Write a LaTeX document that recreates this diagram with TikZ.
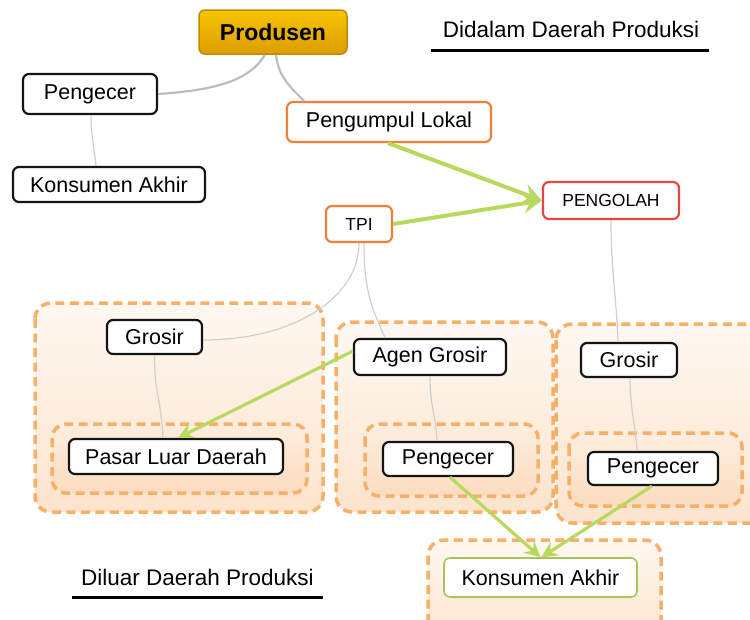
\documentclass[tikz,border=0pt]{standalone}
\usepackage{fontspec}
\setmainfont{Liberation Sans}
\usetikzlibrary{arrows.meta}
\definecolor{goldTop}{HTML}{F8C400}
\definecolor{goldBot}{HTML}{DB9E00}
\definecolor{goldEdge}{HTML}{C08A00}
\definecolor{orEdge}{HTML}{F08038}
\definecolor{redEdge}{HTML}{E84540}
\definecolor{grEdge}{HTML}{A8C45A}
\definecolor{arrowGreen}{HTML}{B9D85E}
\definecolor{dashOr}{HTML}{F6B068}
\definecolor{grpTop}{HTML}{FEF8F1}
\definecolor{grpBot}{HTML}{FCE4CD}
\definecolor{inTop}{HTML}{FDEEDF}
\definecolor{inBot}{HTML}{FBDCC0}
\definecolor{linkGray}{HTML}{BDBDBD}
\definecolor{thinGray}{HTML}{CFCFCF}
\begin{document}
\begin{tikzpicture}[x=1pt,y=-1pt,
  nbox/.style={draw=black!92, line width=2.2pt, rounded corners=6pt, fill=white,
    inner sep=0pt, font=\fontsize{21.5}{25}\selectfont},
  obox/.style={nbox, draw=orEdge},
  rbox/.style={nbox, draw=redEdge},
  gbox/.style={nbox, draw=grEdge, line width=1.6pt},
  grp/.style={draw=dashOr, line width=3.5pt, dash pattern=on 9pt off 5.5pt,
    rounded corners=16pt, top color=grpTop, bottom color=grpBot},
  grpin/.style={grp, top color=inTop, bottom color=inBot, rounded corners=14pt},
  glink/.style={draw=linkGray, line width=2.2pt},
  tlink/.style={draw=thinGray, line width=1.2pt},
  flow/.style={draw=arrowGreen, line width=4pt,
    -{Stealth[length=19pt,width=20pt,inset=7pt]}},
  flowsm/.style={draw=arrowGreen, line width=3.2pt,
    -{Stealth[length=16pt,width=16pt,inset=6pt]}},
  ttl/.style={font=\fontsize{22.5}{26}\selectfont, anchor=base, inner sep=0pt},
  uline/.style={draw=black, line width=3pt}
]
\useasboundingbox (0,0) rectangle (750,619);
\clip (0,0) rectangle (750,619);

% groups
\path[grp] (35,303) rectangle (323,512);
\path[grpin] (52,424) rectangle (307,493);
\path[grp] (336,322) rectangle (553,512);
\path[grpin] (365,424) rectangle (538,496);
\path[grp] (556,324) rectangle (775,523);
\path[grpin] (569,433) rectangle (742,506);
\path[grp] (428,540) rectangle (661,640);

% nodes
\node[nbox, draw=goldEdge, line width=1.5pt, top color=goldTop, bottom color=goldBot,
  minimum width=148pt, minimum height=44pt, font=\bfseries\fontsize{23}{27}\selectfont]
  (prod) at (273,32) {Produsen};
\node[nbox, minimum width=134pt, minimum height=40pt] (pengA) at (90,94) {Pengecer};
\node[nbox, minimum width=192pt, minimum height=35pt] (konsA) at (109,184.5) {Konsumen Akhir};
\node[obox, minimum width=204pt, minimum height=40pt] (pumpul) at (389,122) {Pengumpul Lokal};
\node[rbox, minimum width=136pt, minimum height=37pt, font=\fontsize{17.5}{21}\selectfont]
  (olah) at (611,200.5) {PENGOLAH};
\node[obox, minimum width=66pt, minimum height=36pt, font=\fontsize{17.5}{21}\selectfont]
  (tpi) at (359,224) {TPI};
\node[nbox, minimum width=95pt, minimum height=34pt] (grosL) at (154.5,337) {Grosir};
\node[nbox, minimum width=214pt, minimum height=35pt] (pasar) at (176,456.5) {Pasar Luar Daerah};
\node[nbox, minimum width=152pt, minimum height=36pt] (agen) at (430,357) {Agen Grosir};
\node[nbox, minimum width=130pt, minimum height=34pt] (pengM) at (448,459) {Pengecer};
\node[nbox, minimum width=96pt, minimum height=34pt] (grosR) at (629,360) {Grosir};
\node[nbox, minimum width=130pt, minimum height=33pt] (pengR) at (653,468.5) {Pengecer};
\node[gbox, minimum width=193pt, minimum height=39pt] (konsB) at (540.5,577.5) {Konsumen Akhir};

% titles
\node[ttl] (tIn) at (571,37) {Didalam Daerah Produksi};
\coordinate (uInA) at (431,50);
\coordinate (uInB) at (709,50);
\draw[uline] (uInA) -- (uInB);
\node[ttl] (tOut) at (197.5,585) {Diluar Daerah Produksi};
\coordinate (uOutA) at (72,597);
\coordinate (uOutB) at (323,597);
\draw[uline] (uOutA) -- (uOutB);

% gray links
\draw[glink] ([xshift=-8pt]prod.south) .. controls +(-15,25) and +(60,-4) .. (pengA.east);
\draw[glink] ([xshift=3pt]prod.south) .. controls +(2,22) and +(-12,-12) .. ([xshift=-85pt]pumpul.north);
\draw[tlink] ([xshift=1pt]pengA.south) .. controls +(0,20) and +(-2,-20) .. ([xshift=-13pt]konsA.north);
\draw[tlink] (tpi.south) .. controls +(0,55) and +(90,0) .. ([yshift=-3pt]grosL.east);
\draw[tlink] ([xshift=5pt]tpi.south) .. controls +(0,55) and +(-10,-25) .. ([xshift=-45pt]agen.north);
\draw[tlink] (olah.south) .. controls +(0,50) and +(-2,-50) .. ([xshift=-11pt]grosR.north);
\draw[tlink] (grosL.south) .. controls +(0,40) and +(-2,-40) .. ([xshift=-13pt]pasar.north);
\draw[tlink] (agen.south) .. controls +(0,30) and +(-2,-30) .. ([xshift=-11pt]pengM.north);
\draw[tlink] ([xshift=1pt]grosR.south) .. controls +(0,30) and +(-2,-30) .. ([xshift=-16pt]pengR.north);

% green flows
\draw[flow] ([xshift=-1pt]pumpul.south) -- (olah.west);
\draw[flow] (tpi.east) -- (olah.west);
\draw[flowsm] ([yshift=6pt]agen.west) -- ([xshift=2pt]pasar.north);
\draw[flowsm] ([xshift=2pt]pengM.south) -- (konsB.north);
\draw[flowsm] ([xshift=-1pt]pengR.south) -- ([xshift=1pt]konsB.north);
\end{tikzpicture}
\end{document}
